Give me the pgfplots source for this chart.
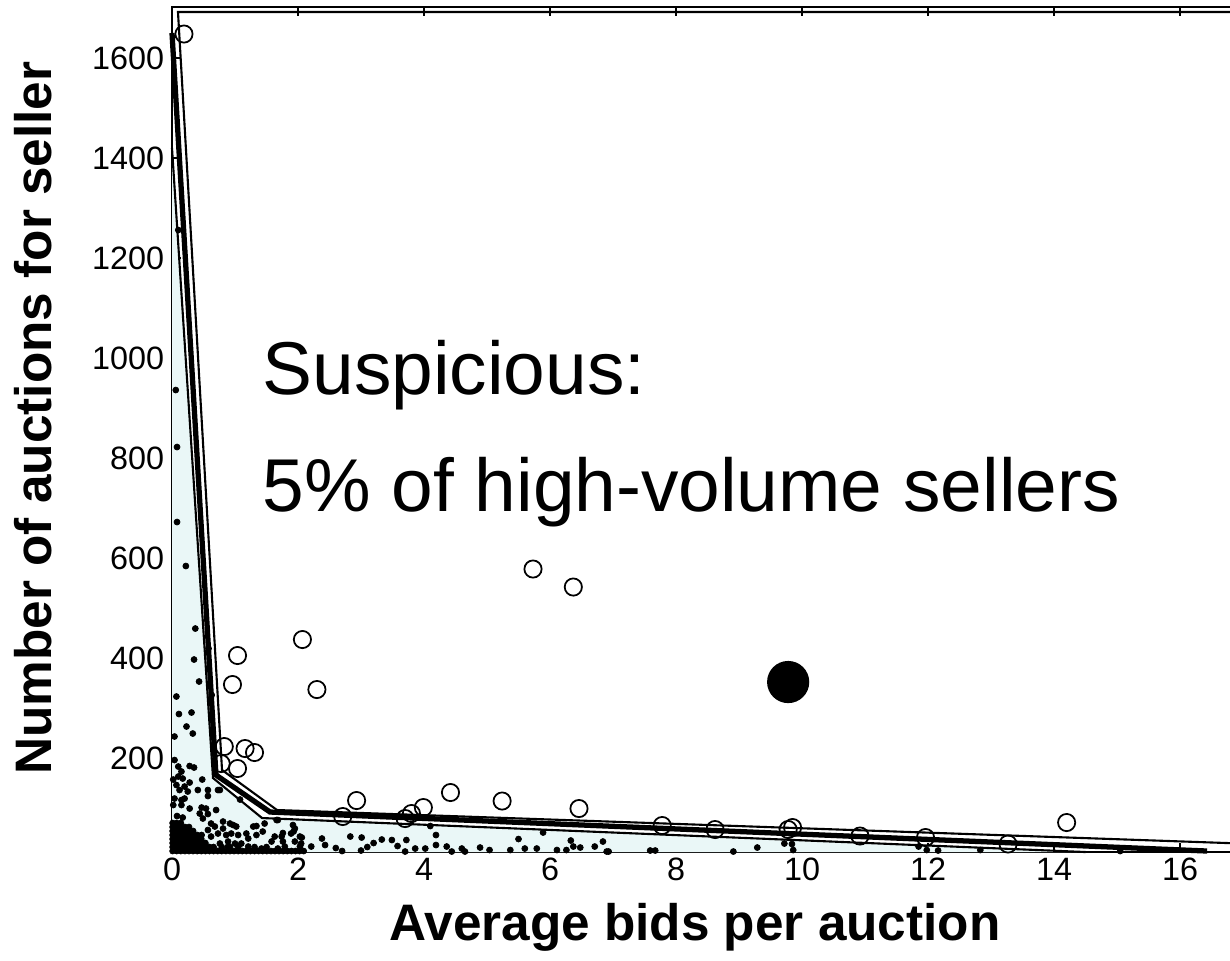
\documentclass[border=0pt]{standalone}
\usepackage{fontspec}
\setmainfont{Liberation Sans}
\usepackage{pgfplots}
\usepackage{pgfplotstable}
\pgfplotsset{compat=1.18}

% sellers: average bids per auction vs. number of auctions
\pgfplotstableread{
x y
0.10 1256
0.06 936
0.08 822
0.08 672
0.22 584
0.37 459
0.35 397
0.43 353
0.58 419
0.63 326
0.07 323
0.31 291
0.11 288
0.23 263
0.33 249
0.04 243
0.04 196
0.10 183
0.28 184
0.35 181
0.15 173
0.10 163
0.17 159
0.02 157
0.28 151
0.48 157
0.07 146
0.20 143
0.12 136
0.57 136
0.41 136
0.73 136
0.57 124
0.25 133
0.04 119
0.15 116
0.20 119
0.02 106
0.15 106
0.28 99
0.47 101
0.54 99
0.70 96
0.44 89
0.57 88
0.08 84
0.17 81
0.49 79
0.81 73
0.92 69
0.97 66
1.02 63
0.62 69
0.68 63
0.57 56
0.81 59
0.86 46
0.73 49
0.94 49
1.05 46
1.18 49
1.29 63
1.34 64
1.21 39
1.34 46
1.47 69
1.68 76
1.63 43
1.74 43
1.76 33
1.58 33
1.92 66
1.95 59
1.89 49
2.03 43
1.95 33
2.05 29
2.03 23
0.89 33
0.76 29
1.00 29
1.10 29
0.89 23
1.21 23
0.52 29
0.62 43
0.47 46
1.68 19
1.79 23
1.42 19
2.21 23
1.93 53
2.06 41
2.38 39
2.43 26
2.83 43
3.01 41
3.33 37
3.49 36
3.58 24
3.72 36
1.66 76
1.76 50
1.44 53
1.08 117
0.76 136
4.10 64
4.19 46
4.19 26
3.86 19
4.02 19
4.36 23
4.60 19
4.89 21
5.04 16
5.50 38
5.60 19
5.79 19
5.89 51
6.33 35
6.37 23
6.48 21
6.71 23
6.84 33
6.93 13
7.59 15
7.67 15
5.37 16
3.70 13
4.44 13
4.65 13
6.26 16
6.11 16
6.90 13
8.91 13
9.29 21
9.72 29
9.84 28
9.86 16
11.85 23
11.98 16
12.16 15
12.83 16
15.05 14
2.60 20
3.00 15
3.20 30
2.70 14
3.10 22
0.01 70
0.075 70
0.14 70
0.01 62
0.075 62
0.14 62
0.205 62
0.27 62
0.01 54
0.075 54
0.14 54
0.205 54
0.27 54
0.335 54
0.01 46
0.075 46
0.14 46
0.205 46
0.27 46
0.335 46
0.40 46
0.01 38
0.075 38
0.14 38
0.205 38
0.27 38
0.335 38
0.40 38
0.465 38
0.01 30
0.075 30
0.14 30
0.205 30
0.27 30
0.335 30
0.40 30
0.465 30
0.53 30
0.01 22
0.075 22
0.14 22
0.205 22
0.27 22
0.335 22
0.40 22
0.465 22
0.53 22
0.595 22
0.66 22
0.79 22
0.92 22
1.05 22
1.31 22
1.50 22
0.01 14
0.075 14
0.14 14
0.205 14
0.27 14
0.335 14
0.40 14
0.465 14
0.53 14
0.595 14
0.66 14
0.725 14
0.79 14
0.855 14
0.92 14
0.985 14
1.05 14
1.115 14
1.18 14
1.245 14
1.31 14
1.375 14
1.44 14
1.505 14
1.57 14
1.635 14
1.70 14
1.765 14
1.83 14
1.895 14
1.96 14
2.025 14
2.09 14
}\sellers

% sellers flagged as suspicious
\pgfplotstableread{
x y
0.19 1648
5.73 578
6.37 542
2.07 437
1.04 405
0.96 347
2.30 337
0.83 223
1.16 219
1.31 211
0.78 189
1.04 179
2.93 115
2.71 83
3.70 79
3.80 89
3.99 101
4.42 131
5.24 114
6.46 99
7.78 65
8.62 57
9.78 57
9.85 61
10.92 44
11.96 41
13.27 28
14.20 71
}\flagged

\definecolor{normalfill}{RGB}{234,247,247}

\begin{document}
\begin{tikzpicture}
\useasboundingbox (0,0) rectangle (12.3cm,-9.6cm);
\begin{axis}[
  at={(1.72cm,-8.52cm)}, anchor=south west,
  scale only axis, width=10.6cm, height=8.45cm,
  xmin=0, xmax=16.825, ymin=12, ymax=1702,
  xtick={0,2,...,16}, ytick={200,400,...,1600},
  xtick pos=both, ytick pos=left,
  tick align=inside, major tick length=0.09cm,
  axis line style={line width=0.6pt},
  tick style={black, line width=0.5pt},
  ticklabel style={font=\fontsize{9.2pt}{11pt}\selectfont},
  xticklabel style={yshift=1.8pt},
  yticklabel style={xshift=1.3pt},
  /pgf/number format/assume math mode=true,
  /pgf/number format/1000 sep={},
  clip=false,
]
% region of normal sellers
\addplot[draw=none, fill=normalfill] coordinates {(0,12) (0,1420) (0.651,160) (1.429,80) (14.5,12)} -- cycle;
% decision boundaries
\addplot[line width=0.6pt] coordinates {(17.2,1692) (0.095,1692) (0.794,176) (1.667,96) (17.2,28)};
\addplot[line width=1.5pt] coordinates {(0,1650) (0.698,166) (1.556,92) (16.43,14)};
\addplot[line width=0.6pt] coordinates {(0,1420) (0.651,160) (1.429,80) (14.5,12)};
% all sellers
\addplot[only marks, mark=*, mark size=0.85pt, mark options={fill=black, draw=black, line width=0.2pt}] table {\sellers};
% suspicious sellers
\addplot[only marks, mark=o, mark size=2.45pt, mark options={line width=0.5pt}] table {\flagged};
\addplot[only marks, mark=*, mark size=5.8pt, mark options={fill=black}] coordinates {(9.78,352)};
\end{axis}
\node[anchor=base west, inner sep=0, font=\fontsize{21.3pt}{25pt}\selectfont] at (2.62cm,-3.94cm) {Suspicious:};
\node[anchor=base west, inner sep=0, font=\fontsize{21.3pt}{25pt}\selectfont] at (2.62cm,-5.11cm) {5\% of high-volume sellers};
\node[anchor=base, inner sep=0, font=\bfseries\fontsize{14.6pt}{17pt}\selectfont] at (6.95cm,-9.40cm) {Average bids per auction};
\node[rotate=90, anchor=base, inner sep=0, font=\bfseries\fontsize{14.6pt}{17pt}\selectfont] at (0.52cm,-4.18cm) {Number of auctions for seller};
\end{tikzpicture}
\end{document}
